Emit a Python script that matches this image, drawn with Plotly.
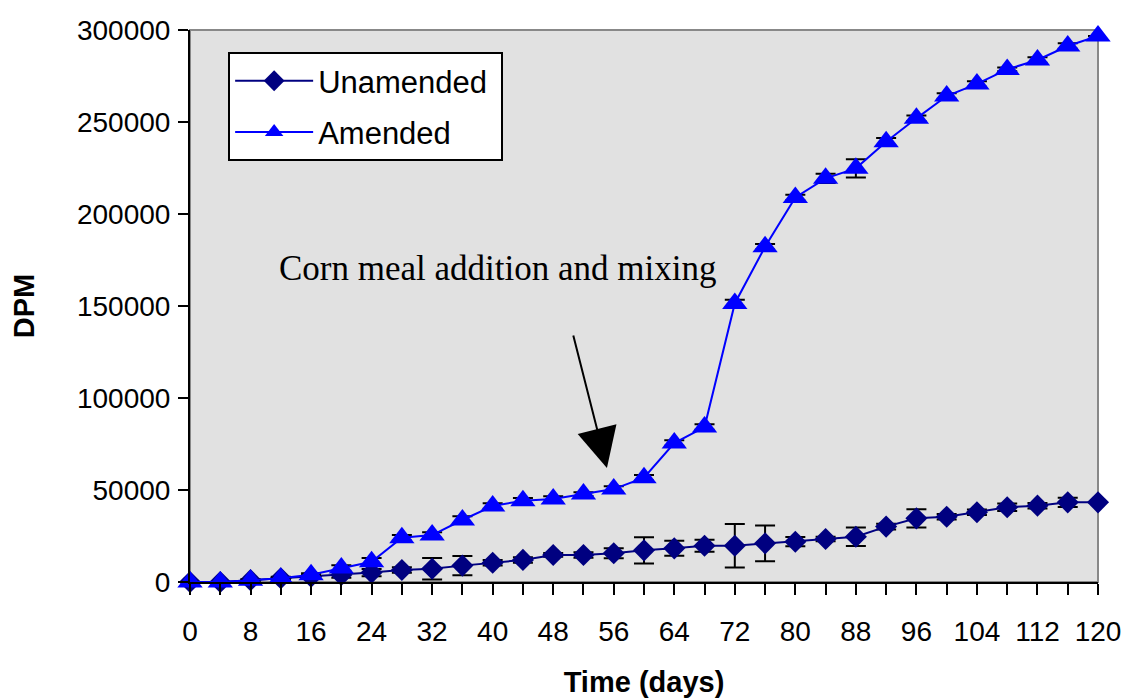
import plotly.graph_objects as go

days = list(range(0, 121, 4))

unamended = [0, 0, 1000, 2000, 2900, 3800, 5100, 6500, 7200, 8900, 10500, 12000,
             14700, 14700, 15600, 17200, 18300, 19700, 19700, 21000, 21900, 23400,
             24600, 30100, 34600, 35500, 37900, 40600, 41500, 43300, 43300]
unamended_err = [0, 0, 500, 800, 1000, 1500, 2000, 1500, 5900, 5200, 1500, 1500,
                 1000, 1500, 2700, 7100, 4100, 3200, 11800, 9700, 2500, 1200,
                 5000, 1500, 5000, 1500, 1500, 2000, 1500, 2500, 0]

amended = [0, 0, 1000, 2000, 4000, 7600, 11000, 24000, 25500, 33700, 41300, 44200,
           45100, 47800, 50500, 56700, 75500, 84200, 151400, 182200, 209000, 219400,
           224800, 239300, 252000, 264100, 270700, 278600, 283700, 291300, 296700]
amended_err = [0, 0, 300, 500, 800, 1500, 2000, 1500, 1500, 2000, 1500, 1500,
               1500, 1000, 1500, 1500, 1500, 1500, 2000, 1500, 1500, 2500,
               5000, 2000, 1500, 1500, 1500, 1000, 1500, 1500, 0]

x_ticks = list(range(0, 121, 8))
y_ticks = [0, 50000, 100000, 150000, 200000, 250000, 300000]
y_labels = ["0", "50000", "100000", "150000", "200000", "250000", "300000"]

SANS = "Liberation Sans, Arial, sans-serif"
SERIF = "Liberation Serif, Times New Roman, serif"

fig = go.Figure()
fig.add_trace(go.Scatter(
    x=days, y=unamended, name="Unamended ", mode="lines+markers",
    legendgroup="u",
    line=dict(color="#000080", width=2),
    marker=dict(symbol="diamond", size=17, color="#000080"),
    error_y=dict(type="data", array=unamended_err, color="black", thickness=2, width=10),
    cliponaxis=False,
))
fig.add_trace(go.Scatter(
    x=days, y=amended, name="Amended", mode="lines+markers",
    legendgroup="a",
    line=dict(color="#0000FF", width=2),
    marker=dict(symbol="triangle-up", size=22, color="#0000FF"),
    error_y=dict(type="data", array=amended_err, color="black", thickness=2, width=10),
    cliponaxis=False,
))

# plot frame (top/right grey border)
fig.add_shape(type="rect", xref="paper", yref="paper", x0=0, x1=1, y0=0, y1=1,
              line=dict(color="#888888", width=2), layer="below")

fig.add_annotation(x=40.6, y=170500, text="Corn meal addition and mixing",
                   showarrow=False, font=dict(family=SERIF, size=35, color="black"))
fig.add_annotation(x=55.1, y=62000, ax=-34, ay=-134, text="", showarrow=True,
                   arrowhead=2, arrowsize=4, arrowwidth=2, arrowcolor="black")

fig.update_layout(
    width=1122, height=690,
    margin=dict(l=182, r=32, t=22, b=116),
    paper_bgcolor="white", plot_bgcolor="#e1e1e1",
    font=dict(family=SANS, size=28, color="black"),
    showlegend=True,
    legend=dict(x=0.042, y=0.96, xanchor="left", yanchor="top",
                bgcolor="white", bordercolor="black", borderwidth=2,
                font=dict(family=SANS, size=31), itemwidth=78,
                tracegroupgap=8),
    xaxis=dict(range=[0, 120], tickvals=x_ticks, ticks="outside", ticklen=11,
               tickwidth=2, tickcolor="black", showgrid=False, zeroline=False,
               showline=True, linecolor="black", linewidth=2, automargin=False,
               minor=dict(dtick=4, tick0=0, ticks="outside", ticklen=11,
                          tickwidth=2, tickcolor="black"),
               ticklabelstandoff=12,
               title=dict(text="<b>Time (days)</b>", standoff=27,
                          font=dict(family=SANS, size=29))),
    yaxis=dict(range=[0, 300000], tickvals=y_ticks, ticktext=y_labels,
               ticks="outside", ticklen=10,
               tickwidth=2, tickcolor="black", showgrid=False, zeroline=False,
               showline=True, linecolor="black", linewidth=2, automargin=False,
               ticklabelstandoff=2,
               title=dict(text="<b>DPM</b>", standoff=45,
                          font=dict(family=SANS, size=29))),
    xaxis2=dict(overlaying="x", matches="x", range=[0, 120], anchor="y",
                dtick=4, tick0=0, ticks="inside", ticklen=11, tickwidth=2,
                tickcolor="black", showticklabels=False, showgrid=False,
                zeroline=False, showline=False),
    yaxis2=dict(overlaying="y", matches="y", range=[0, 300000], anchor="x",
                tickvals=y_ticks, ticks="inside", ticklen=10, tickwidth=2,
                tickcolor="black", showticklabels=False, showgrid=False,
                zeroline=False, showline=False),
)

fig.write_html("out.html")
